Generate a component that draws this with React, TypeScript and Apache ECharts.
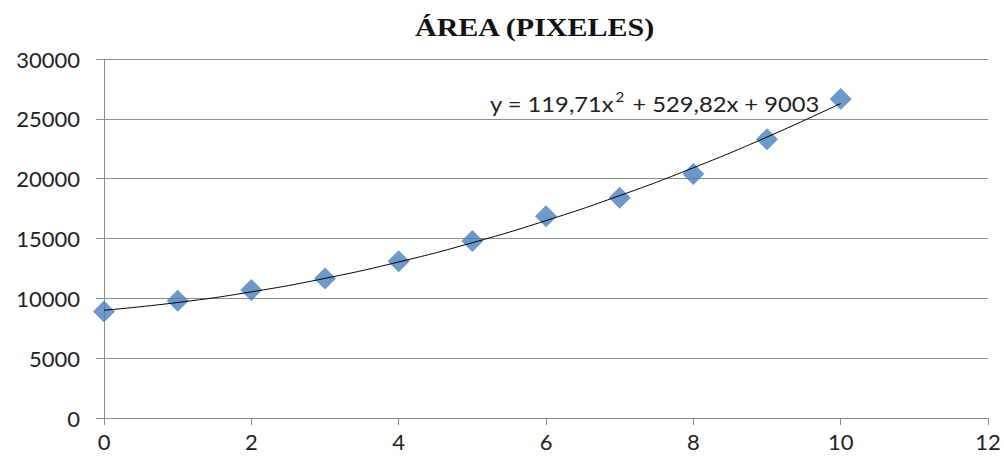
import React, { useEffect, useRef } from "react";
import * as echarts from "echarts";

const xValues = [0, 1, 2, 3, 4, 5, 6, 7, 8, 9, 10];
const areaValues = [8900, 9800, 10700, 11650, 13100, 14800, 16850, 18400, 20400, 23300, 26650];
// Trendline values read at each x (quadratic trend shown in the chart)
const trendValues = [9003, 9652, 10541, 11670, 13039, 14647, 16495, 18583, 20910, 23477, 26284];
const titleText = "ÁREA (PIXELES)";
const equationParts = ["y = 119,71x", "2", " + 529,82x + 9003"];

export default function App() {
  const ref = useRef<HTMLDivElement>(null);
  useEffect(() => {
    if (!ref.current) return;
    const chart = echarts.init(ref.current, null, { renderer: "svg" });
    const labelFont = { fontFamily: "Lato, 'Open Sans', sans-serif", fontSize: 22, color: "#222" };
    chart.setOption({
      animation: false,
      backgroundColor: "#fff",
      grid: { left: 104, right: 16, top: 59, bottom: 43, containLabel: false },
      graphic: [
        {
          type: "text",
          x: 415,
          y: 15,
          scaleX: 1.2,
          style: {
            text: titleText,
            font: "bold 25px 'Liberation Serif', serif",
            fill: "#111",
          },
        },
        {
          type: "text",
          x: 490,
          y: 90,
          scaleX: 1.08,
          style: {
            text: `{n|${equationParts[0]}}{s|${equationParts[1]}}{n|${equationParts[2]}}`,
            rich: {
              n: { font: "22px Lato, 'Open Sans', sans-serif", fill: "#222", verticalAlign: "bottom" },
              s: { font: "14px Lato, 'Open Sans', sans-serif", fill: "#222", padding: [0, 2, 10, 1], verticalAlign: "bottom" },
            },
          },
        },
      ],
      xAxis: {
        type: "value",
        min: 0,
        max: 12,
        interval: 2,
        axisLine: { show: true, lineStyle: { color: "#8c8c8c", width: 1 } },
        axisTick: { show: true, length: 7, lineStyle: { color: "#8c8c8c" } },
        axisLabel: { ...labelFont, margin: 12 },
        splitLine: { show: false },
      },
      yAxis: {
        type: "value",
        min: 0,
        max: 30000,
        interval: 5000,
        axisLine: { show: true, lineStyle: { color: "#8c8c8c", width: 1 } },
        axisTick: { show: true, inside: false, length: 8, lineStyle: { color: "#8c8c8c" } },
        axisLabel: { ...labelFont, margin: 24, formatter: (v: number) => String(v) },
        splitLine: { show: true, lineStyle: { color: "#8c8c8c", width: 1 } },
      },
      series: [
        {
          type: "scatter",
          data: xValues.map((x, i) => [x, areaValues[i]]),
          symbol: "diamond",
          symbolSize: [22, 22],
          itemStyle: { color: "#4a7ebb" },
          z: 2,
        },
        {
          type: "line",
          data: xValues.map((x, i) => [x, trendValues[i]]),
          smooth: true,
          showSymbol: false,
          symbol: "none",
          lineStyle: { color: "#000", width: 1 },
          z: 3,
        },
      ],
    });
    return () => chart.dispose();
  }, []);
  return <div ref={ref} style={{ width: 1004, height: 461, position: "absolute", left: 0, top: 0 }} />;
}
